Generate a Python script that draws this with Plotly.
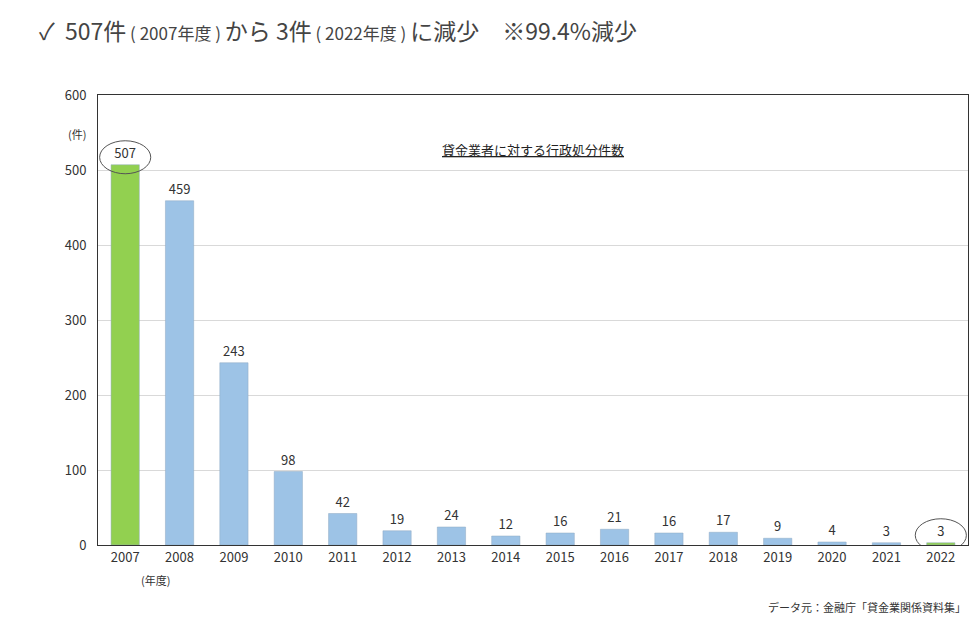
import plotly.graph_objects as go

years = ["2007","2008","2009","2010","2011","2012","2013","2014","2015","2016","2017","2018","2019","2020","2021","2022"]
counts = [507,459,243,98,42,19,24,12,16,21,16,17,9,4,3,3]
y_ticks = [0,100,200,300,400,500,600]

colors = ["#92D050"] + ["#9DC3E6"]*(len(years)-2) + ["#92D050"]
font = "Noto Sans CJK JP"

fig = go.Figure(go.Bar(
    x=years, y=counts, marker=dict(color=colors, line=dict(color="#8FA9C2", width=0.5)),
    width=0.52, text=[str(v) for v in counts], textposition="outside",
    textfont=dict(size=13, color="#333", family=font), cliponaxis=False))

fig.update_layout(
    width=977, height=619, margin=dict(l=90, r=17, t=87, b=82, autoexpand=False),
    plot_bgcolor="white", paper_bgcolor="white", showlegend=False,
    font=dict(family=font, color="#333"),
    xaxis=dict(showline=True, linecolor="#333", mirror=True, tickfont=dict(size=13), ticks="", automargin=False),
    yaxis=dict(range=[0,600], tickvals=y_ticks, showgrid=True, gridcolor="#d9d9d9", automargin=False,
               showline=True, linecolor="#333", mirror=True, tickfont=dict(size=13), ticks="", ticklabelstandoff=8),
)
for i in (0, len(years)-1):
    fig.add_shape(type="circle", xref="x", yref="y",
                  x0=i-0.47, x1=i+0.47, y0=counts[i]-12, y1=counts[i]+32,
                  line=dict(color="#555", width=1))
fig.add_annotation(text="✓  507件<span style='font-size:17px'> ( 2007年度 ) </span>から 3件<span style='font-size:17px'> ( 2022年度 ) </span>に減少　※99.4%減少",
                   xref="paper", yref="paper", x=-0.07, y=1.0, yshift=65, xanchor="left", yanchor="middle",
                   showarrow=False, font=dict(size=23, color="#444"))
fig.add_annotation(text="<u>貸金業者に対する行政処分件数</u>", xref="paper", yref="paper", x=0.5, y=0.905,
                   showarrow=False, font=dict(size=13, color="#222"))
fig.add_annotation(text="(件)", xref="paper", yref="paper", x=0, xshift=-32, y=0.935,
                   showarrow=False, font=dict(size=11))
fig.add_annotation(text="(年度)", xref="paper", yref="paper", x=0.047, y=0, yshift=-45,
                   showarrow=False, font=dict(size=11))
fig.add_annotation(text="データ元：金融庁「貸金業関係資料集」", xref="paper", yref="paper", x=1, y=0, yshift=-72,
                   xanchor="right", showarrow=False, font=dict(size=11))
fig.write_html("out.html")
